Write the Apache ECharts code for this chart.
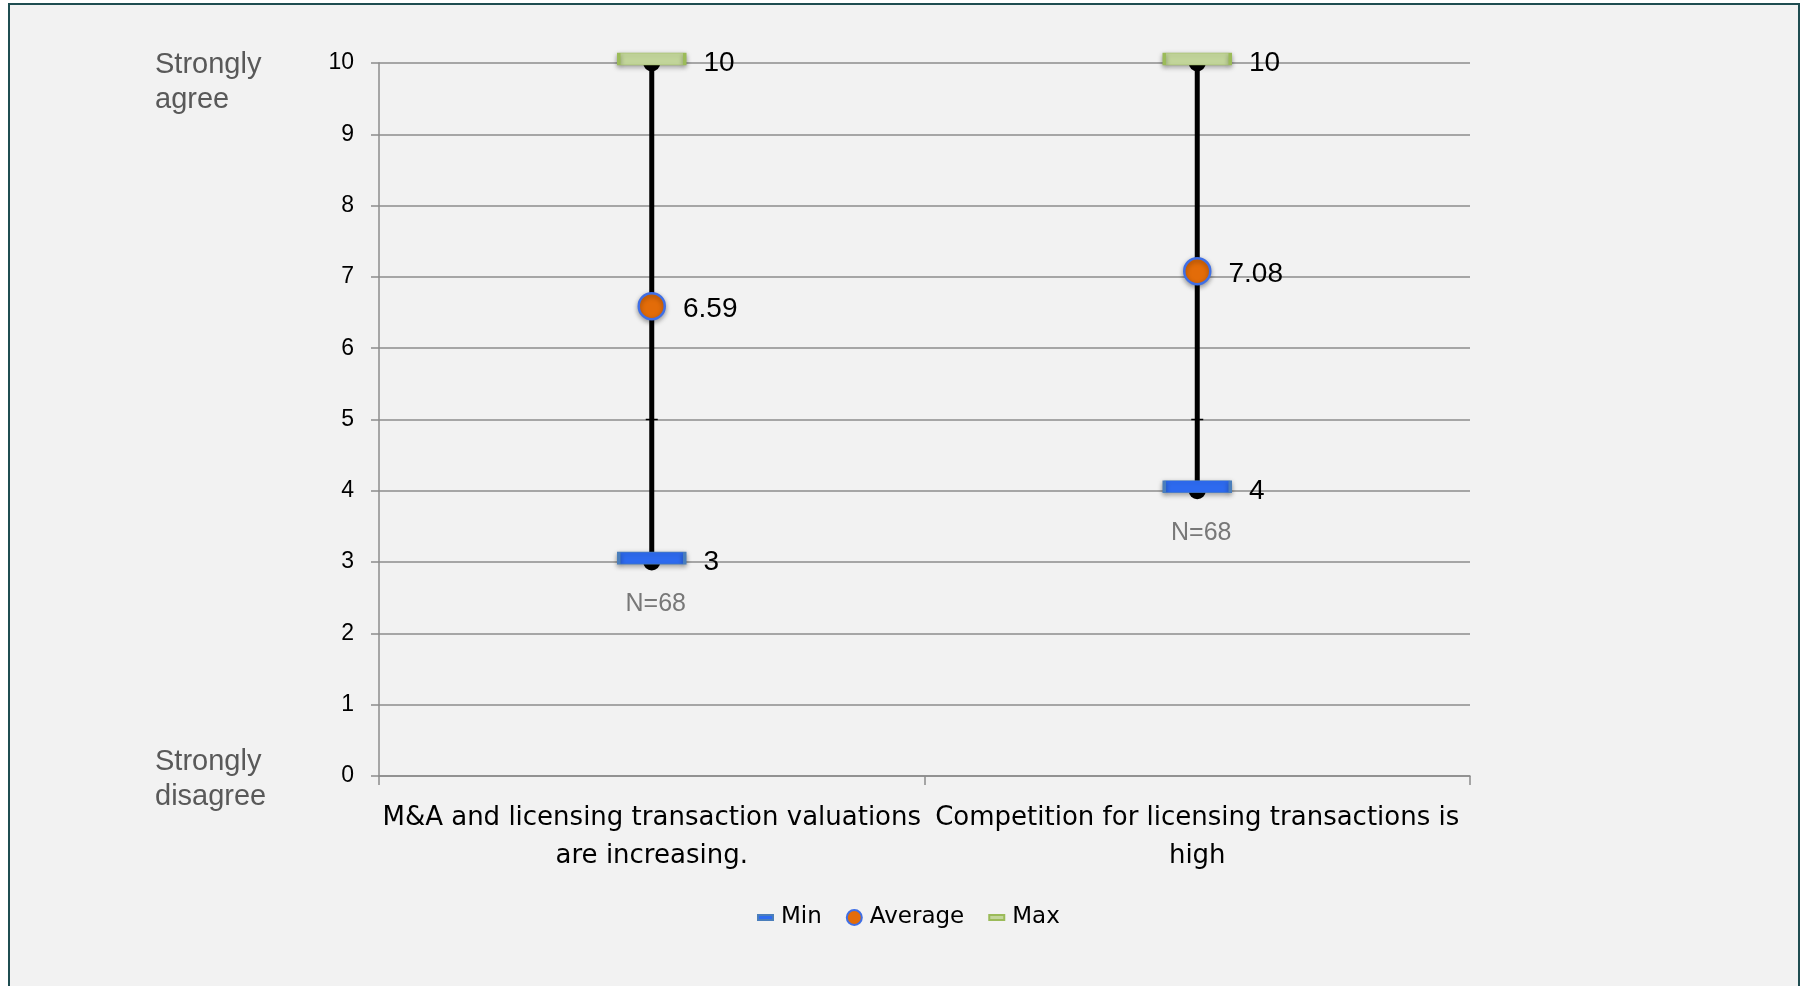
<!DOCTYPE html>
<html>
<head>
<meta charset="utf-8">
<title>Valuations and competition</title>
<script src="https://cdn.jsdelivr.net/npm/echarts@6.0.0/dist/echarts.min.js"></script>
<style>
  html, body { margin: 0; padding: 0; background: #fff; }
  #chart { width: 1806px; height: 986px; }
</style>
</head>
<body>
<div id="chart"></div>
<script>
(function () {
  'use strict';

  // chart data
  var categories = [
    'M&A and licensing transaction valuations\nare increasing.',
    'Competition for licensing transactions is\nhigh'
  ];
  var minValues = [3, 4];
  var avgValues = [6.59, 7.08];
  var maxValues = [10, 10];
  var midTicks = [5, 5];
  var sampleSizes = [68, 68];
  var scaleEnds = ['Strongly\nagree', 'Strongly\ndisagree'];

  var labelFont = '"Liberation Sans", Arial, sans-serif';
  var catFont = '"DejaVu Sans", sans-serif';
  // 15x15 box with a flat bar in the middle, for the legend
  var barIcon = 'path://M0,0M0,5L15,5L15,10L0,10ZM15,15';

  function pairs(values) {
    return values.map(function (v, i) { return [i, v]; });
  }

  function valueLabel(params) {
    return String(params.value[1]);
  }

  function renderRange(params, api) {
    var low = api.coord([api.value(0), api.value(1)]);
    var high = api.coord([api.value(0), api.value(2)]);
    return {
      type: 'group',
      children: [
        { type: 'line', shape: { x1: low[0], y1: low[1], x2: high[0], y2: high[1] }, style: { stroke: '#000', lineWidth: 5 } },
        { type: 'circle', shape: { cx: low[0], cy: low[1], r: 8.5 }, style: { fill: '#000' } },
        { type: 'circle', shape: { cx: high[0], cy: high[1], r: 8.5 }, style: { fill: '#000' } }
      ]
    };
  }

  var dataLabel = {
    show: true,
    position: 'right',
    distance: 17,
    color: '#000',
    fontSize: 28,
    fontFamily: labelFont,
    formatter: valueLabel
  };

  var shadow = {
    shadowBlur: 5,
    shadowOffsetY: 2,
    shadowColor: 'rgba(0,0,0,0.35)'
  };

  var chart = echarts.init(document.getElementById('chart'));

  chart.setOption({
    backgroundColor: '#fff',
    animation: false,
    grid: { left: 379, right: 336, top: 63, bottom: 210, outerBoundsMode: 'none' },
    xAxis: {
      type: 'category',
      data: categories,
      axisLine: { lineStyle: { color: '#8c8c8c', width: 1.5 } },
      axisTick: { show: true, length: 9, lineStyle: { color: '#8c8c8c', width: 1.5 } },
      axisLabel: {
        interval: 0,
        hideOverlap: false,
        color: '#000',
        fontSize: 26,
        fontFamily: catFont,
        lineHeight: 38,
        margin: 23
      }
    },
    yAxis: {
      type: 'value',
      min: 0,
      max: 10,
      interval: 1,
      axisLine: { show: true, lineStyle: { color: '#8c8c8c', width: 1.5 } },
      axisTick: { show: true, length: 8, lineStyle: { color: '#8c8c8c', width: 1.5 } },
      axisLabel: { color: '#000', fontSize: 23, fontFamily: labelFont, margin: 25 },
      splitLine: { lineStyle: { color: '#8c8c8c', width: 1.5 } }
    },
    legend: {
      left: 752,
      top: 901,
      itemWidth: 15,
      itemHeight: 15,
      itemGap: 24,
      selectedMode: false,
      data: [
        { name: 'Min', icon: barIcon },
        { name: 'Average', icon: 'circle' },
        { name: 'Max', icon: barIcon }
      ],
      textStyle: { color: '#000', fontSize: 23, fontFamily: catFont, padding: [0, 0, 0, 3] }
    },
    graphic: [
      {
        type: 'rect',
        z: -10,
        silent: true,
        shape: { x: 9, y: 4, width: 1790, height: 1000 },
        style: { fill: '#f2f2f2', stroke: '#1f4d51', lineWidth: 2 }
      },
      {
        type: 'text',
        x: 155,
        y: 82,
        silent: true,
        style: { text: scaleEnds[0], font: '29px ' + labelFont, fill: '#595959', lineHeight: 35, verticalAlign: 'middle' }
      },
      {
        type: 'text',
        x: 155,
        y: 779,
        silent: true,
        style: { text: scaleEnds[1], font: '29px ' + labelFont, fill: '#595959', lineHeight: 35, verticalAlign: 'middle' }
      }
    ],
    series: [
      {
        name: 'Range',
        type: 'custom',
        renderItem: renderRange,
        encode: { x: 0, y: [1, 2] },
        data: minValues.map(function (v, i) { return [i, v, maxValues[i]]; }),
        silent: true,
        z: 1
      },
      {
        name: 'Mid',
        type: 'scatter',
        symbol: 'rect',
        symbolSize: [12, 1.5],
        itemStyle: { color: '#000', opacity: 1 },
        data: pairs(midTicks),
        silent: true,
        z: 2
      },
      {
        name: 'N',
        type: 'scatter',
        symbolSize: 1,
        itemStyle: { color: 'rgba(0,0,0,0)' },
        label: {
          show: true,
          position: 'bottom',
          distance: 29,
          offset: [4, 0],
          color: '#595959',
          fontSize: 25,
          fontFamily: labelFont,
          formatter: function (params) { return 'N=' + params.value[2]; }
        },
        data: minValues.map(function (v, i) { return [i, v, sampleSizes[i]]; }),
        silent: true,
        z: 2
      },
      {
        name: 'Min',
        type: 'scatter',
        symbol: 'rect',
        symbolSize: [66, 12],
        symbolOffset: [0, -4],
        itemStyle: Object.assign({ color: '#2e6bf0', borderColor: '#4a7ebb', borderWidth: 1.5, opacity: 1 }, shadow),
        label: Object.assign({}, dataLabel, { offset: [0, 4] }),
        data: pairs(minValues),
        z: 3
      },
      {
        name: 'Max',
        type: 'scatter',
        symbol: 'rect',
        symbolSize: [66, 12],
        symbolOffset: [0, -4],
        itemStyle: Object.assign({ color: '#c3d69b', borderColor: '#9bbb59', borderWidth: 1.5, opacity: 1 }, shadow),
        label: Object.assign({}, dataLabel, { offset: [0, 4] }),
        data: pairs(maxValues),
        z: 3
      },
      {
        name: 'Average',
        type: 'scatter',
        symbol: 'circle',
        symbolSize: 26,
        itemStyle: Object.assign({ color: '#e36c09', borderColor: '#3f6fe6', borderWidth: 2.5, opacity: 1 }, shadow),
        label: Object.assign({}, dataLabel, { offset: [0, 3] }),
        data: pairs(avgValues),
        z: 4
      }
    ]
  });
})();
</script>
</body>
</html>
